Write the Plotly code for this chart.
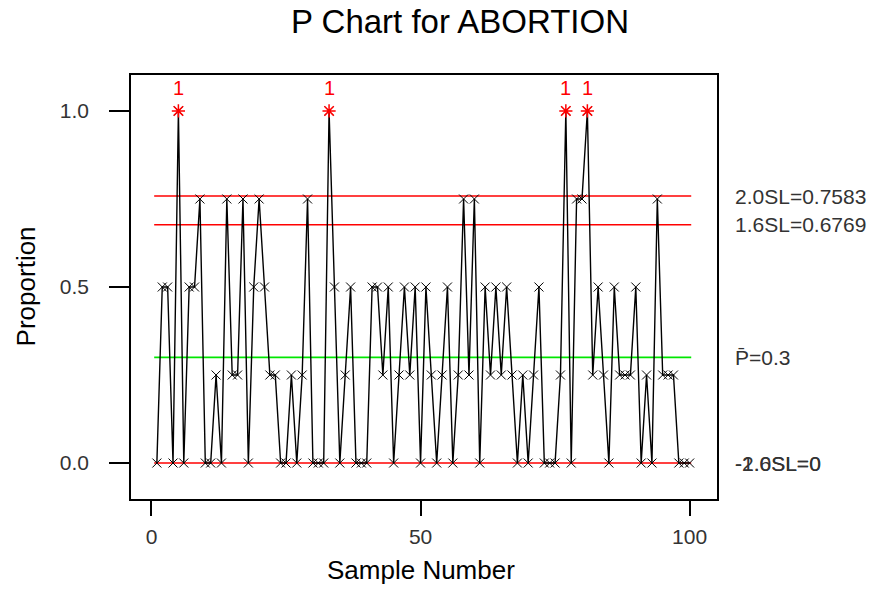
import plotly.graph_objects as go

# ---------------- data ----------------
sample = list(range(1, 101))
proportion = [
    0, 0.5, 0.5, 0, 1.0, 0, 0.5, 0.5, 0.75, 0,
    0, 0.25, 0, 0.75, 0.25, 0.25, 0.75, 0, 0.5, 0.75,
    0.5, 0.25, 0.25, 0, 0, 0.25, 0, 0.25, 0.75, 0,
    0, 0, 1.0, 0.5, 0, 0.25, 0.5, 0, 0, 0,
    0.5, 0.5, 0.25, 0.5, 0, 0.25, 0.5, 0.25, 0.5, 0,
    0.5, 0.25, 0, 0.25, 0.5, 0, 0.25, 0.75, 0.25, 0.75,
    0, 0.5, 0.25, 0.5, 0.25, 0.5, 0.25, 0, 0.25, 0,
    0.25, 0.5, 0, 0, 0, 0.25, 1.0, 0, 0.75, 0.75,
    1.0, 0.25, 0.5, 0.25, 0, 0.5, 0.25, 0.25, 0.25, 0.5,
    0, 0.25, 0, 0.75, 0.25, 0.25, 0.25, 0, 0, 0,
]
p_bar = 0.3
ucl_20 = 0.7583
ucl_16 = 0.6769
lcl = 0.0
limit_span = [0.5, 100.3]
limit_labels = [
    (ucl_20, "2.0SL=0.7583"),
    (ucl_16, "1.6SL=0.6769"),
    (p_bar, "P\u0304=0.3"),
    (lcl, "-2.0SL=0"),
    (lcl, "-1.6SL=0"),
]
x_ticks = [0, 50, 100]
y_ticks = [0.0, 0.5, 1.0]
y_tick_text = ["0.0", "0.5", "1.0"]

# ---------------- geometry helpers (pixels -> paper) ----------------
W, H = 877, 589
L, R, T, B = 130.5, 716.7, 75.0, 499.3
def px(x):
    return (x - L) / (R - L)
def py(y):
    return (B - y) / (B - T)

FONT = "Liberation Sans, Arial, sans-serif"

fig = go.Figure()

# control limit lines
for val, col in [(ucl_20, "#ff0000"), (ucl_16, "#ff0000"), (lcl, "#ff0000"), (p_bar, "#00e600")]:
    fig.add_trace(go.Scatter(x=limit_span, y=[val, val], mode="lines",
                             line=dict(color=col, width=1.6), hoverinfo="skip",
                             showlegend=False))

# data line with markers
fig.add_trace(go.Scatter(
    x=sample, y=proportion, mode="lines+markers",
    line=dict(color="black", width=1.4),
    marker=dict(symbol="x-thin-open", size=9, color="black",
                line=dict(color="black", width=1)),
    showlegend=False))

# out-of-control points
ooc_x = [s for s, p in zip(sample, proportion) if p > ucl_20]
ooc_y = [p for p in proportion if p > ucl_20]
fig.add_trace(go.Scatter(
    x=ooc_x, y=ooc_y, mode="markers",
    marker=dict(symbol="asterisk-open", size=11, color="#ff0000",
                line=dict(color="#ff0000", width=1.5)),
    showlegend=False))

annotations = []
for xv, yv in zip(ooc_x, ooc_y):
    annotations.append(dict(x=xv, y=yv, xref="x", yref="y", text="1",
                            showarrow=False, yshift=23,
                            font=dict(family=FONT, size=20, color="#ff0000")))

for val, txt in limit_labels:
    annotations.append(dict(x=px(733), y=val, xref="paper", yref="y", text=txt,
                            xanchor="left", yanchor="middle", showarrow=False,
                            font=dict(family=FONT, size=21, color="#333333")))

annotations.append(dict(x=px(25), y=py(287), xref="paper", yref="paper",
                        text="Proportion", textangle=-90, showarrow=False,
                        xanchor="center", yanchor="middle",
                        font=dict(family=FONT, size=26, color="black")))
annotations.append(dict(x=px(421), y=py(570), xref="paper", yref="paper",
                        text="Sample Number", showarrow=False,
                        xanchor="center", yanchor="middle",
                        font=dict(family=FONT, size=26, color="black")))

x0 = -20.5 / 5.383
x1 = (R - 151) / 5.383
y0 = -(B - 463.3) / 352.3
y1 = (463.3 - T) / 352.3

fig.update_layout(
    width=W, height=H,
    margin=dict(l=L, r=W - R, t=T, b=H - B, autoexpand=False),
    paper_bgcolor="white", plot_bgcolor="white",
    title=dict(text="P Chart for ABORTION", x=460 / W, xanchor="center",
               y=1 - 21 / H, yanchor="middle", yref="container",
               font=dict(family=FONT, size=33, color="black")),
    xaxis=dict(range=[x0, x1], tickvals=x_ticks, ticks="outside", ticklen=15,
               tickwidth=1.5, tickcolor="black", showgrid=False, zeroline=False,
               showline=True, linecolor="black", linewidth=1.5, mirror=True,
               ticklabelstandoff=3,
               tickfont=dict(family=FONT, size=21, color="#333333")),
    yaxis=dict(range=[y0, y1], tickvals=y_ticks, ticktext=y_tick_text,
               ticks="outside", ticklen=20, tickwidth=1.5, tickcolor="black",
               showgrid=False, zeroline=False, showline=True, linecolor="black",
               linewidth=1.5, mirror=True, ticklabelstandoff=16,
               tickfont=dict(family=FONT, size=21, color="#333333")),
    annotations=annotations,
)

fig.write_html("out.html")
